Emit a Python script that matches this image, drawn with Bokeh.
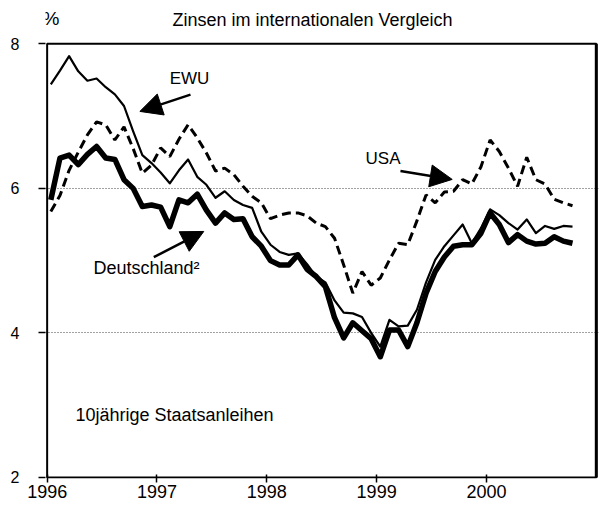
from bokeh.plotting import figure
from bokeh.models import Range1d, FixedTicker, Label, Arrow, NormalHead, BoxAnnotation
from bokeh.embed import file_html
from bokeh.resources import INLINE

# Monthly data, Jan 1996 .. Oct 2000
months = [f"{1996 + m // 12}-{m % 12 + 1:02d}" for m in range(58)]
x = [int(s[:4]) + (int(s[5:]) - 1 + 0.4) / 12 for s in months]

ewu = [7.44, 7.63, 7.83, 7.62, 7.49, 7.52, 7.40, 7.30, 7.14, 6.79,
       6.46, 6.35, 6.22, 6.07, 6.25, 6.40, 6.16, 6.05, 5.87, 5.96,
       5.84, 5.77, 5.73, 5.40, 5.22, 5.12, 5.08, 5.10, 4.95, 4.78,
       4.70, 4.45, 4.28, 4.27, 4.22, 4.00, 3.81, 4.18, 4.09, 4.10,
       4.32, 4.70, 5.01, 5.20, 5.35, 5.50, 5.24, 5.45, 5.71, 5.63,
       5.52, 5.43, 5.57, 5.38, 5.48, 5.44, 5.48, 5.47]

deutschland = [5.84, 6.42, 6.46, 6.33, 6.47, 6.58, 6.42, 6.40, 6.12, 6.00,
               5.75, 5.77, 5.74, 5.47, 5.84, 5.80, 5.92, 5.70, 5.52, 5.66,
               5.57, 5.58, 5.33, 5.20, 5.00, 4.94, 4.94, 5.08, 4.88, 4.78,
               4.64, 4.21, 3.93, 4.14, 4.03, 3.92, 3.67, 4.04, 4.04, 3.81,
               4.14, 4.55, 4.85, 5.05, 5.20, 5.22, 5.22, 5.38, 5.66, 5.50,
               5.25, 5.36, 5.27, 5.23, 5.24, 5.33, 5.27, 5.24]

usa = [5.68, 5.90, 6.25, 6.50, 6.74, 6.92, 6.88, 6.67, 6.85, 6.55,
       6.21, 6.32, 6.56, 6.44, 6.68, 6.88, 6.70, 6.49, 6.24, 6.28,
       6.19, 6.03, 5.89, 5.80, 5.58, 5.63, 5.66, 5.66, 5.62, 5.52,
       5.47, 5.31, 4.94, 4.55, 4.85, 4.66, 4.76, 5.01, 5.24, 5.22,
       5.55, 5.91, 5.80, 5.95, 5.96, 6.12, 6.06, 6.30, 6.67, 6.51,
       6.28, 6.03, 6.43, 6.12, 6.06, 5.85, 5.80, 5.76]

x_ticks = [1996, 1997, 1998, 1999, 2000]
x_tick_labels = ["1996", "1997", "1998", "1999", "2000"]
y_ticks = [2, 4, 6, 8]
y_tick_labels = ["2", "4", "6", "8"]
grid_levels = [4, 6]

title_text = "Zinsen im internationalen Vergleich"
unit_text = "%"
note_text = "10jährige Staatsanleihen"

FONT = "Liberation Sans"

p = figure(width=601, height=505,
           x_range=Range1d(1995.985, 2001.02), y_range=Range1d(1.985, 8.60),
           output_backend="svg", toolbar_location=None,
           min_border_left=45, min_border_right=3,
           min_border_top=0, min_border_bottom=27)
p.background_fill_color = "white"
p.border_fill_color = "white"
p.outline_line_color = None

p.xgrid.visible = False
p.ygrid.ticker = FixedTicker(ticks=grid_levels)
p.ygrid.grid_line_color = "#444444"
p.ygrid.grid_line_dash = "1 2"
p.ygrid.grid_line_width = 1

p.xaxis.ticker = FixedTicker(ticks=x_ticks)
p.xaxis.major_label_overrides = {t: l for t, l in zip(x_ticks, x_tick_labels)}
p.xaxis.major_tick_in = 4
p.xaxis.major_tick_out = 4
p.xaxis.major_label_standoff = 2
p.xaxis.major_label_text_font_size = "18px"

p.yaxis.ticker = FixedTicker(ticks=y_ticks)
p.yaxis.major_label_overrides = {t: l for t, l in zip(y_ticks, y_tick_labels)}
p.yaxis.major_tick_in = 0
p.yaxis.major_tick_out = 7
p.yaxis.major_label_standoff = 19
p.yaxis.major_label_text_font_size = "16px"

for ax in (p.xaxis, p.yaxis):
    ax.axis_line_color = None
    ax.minor_tick_line_color = None
    ax.major_tick_line_color = "black"
    ax.major_tick_line_width = 1.5
    ax.major_label_text_font = FONT
    ax.major_label_text_color = "black"

# plot frame (box from 1996..2001, 2..8)
p.add_layout(BoxAnnotation(left=1996, right=2001, bottom=2, top=8,
                           fill_color=None, fill_alpha=0,
                           line_color="black", line_alpha=1, line_width=2))
p.add_layout(BoxAnnotation(left=2001, right=2001, bottom=2, top=8,
                           fill_color=None, fill_alpha=0,
                           line_color="black", line_alpha=1, line_width=3))

p.line(x, usa, line_color="black", line_width=3, line_dash="9 5")
p.line(x, ewu, line_color="black", line_width=2.2, line_join="round")
p.line(x, deutschland, line_color="black", line_width=5.5, line_join="round")

def lab(xx, yy, text, size="16px", align="center"):
    p.add_layout(Label(x=xx, y=yy, text=text, text_font=FONT, text_font_size=size,
                       text_align=align, text_baseline="middle", text_color="black"))

lab(1998.416, 8.325, title_text, "18px")
lab(1996.035, 8.353, unit_text, "19px")
lab(1997.296, 7.515, "EWU", "17px")
lab(1999.058, 6.411, "USA", "17px")
lab(1996.905, 4.892, "Deutschland²", "18px")
lab(1997.160, 2.870, note_text, "18px")

def arrow(x0, y0, x1, y1):
    p.add_layout(Arrow(end=NormalHead(size=22, fill_color="black", line_color="black"),
                       x_start=x0, y_start=y0, x_end=x1, y_end=y1,
                       line_color="black", line_width=2.5))

arrow(1997.305, 7.297, 1996.844, 7.065)
arrow(1999.217, 6.239, 1999.688, 6.124)
arrow(1996.971, 5.048, 1997.426, 5.404)

open("out.html", "w").write(file_html(p, INLINE))
